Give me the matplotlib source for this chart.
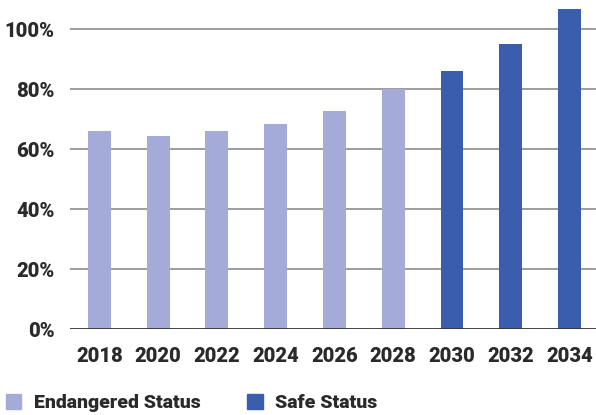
import numpy as np
import matplotlib.pyplot as plt
from matplotlib.patches import Patch

years = ["2018", "2020", "2022", "2024", "2026", "2028", "2030", "2032", "2034"]
values = [66, 64.3, 66, 68.3, 72.7, 80, 86, 95, 106.7]
safe = [False, False, False, False, False, False, True, True, True]
yticks = [0, 20, 40, 60, 80, 100]

light = "#A5ABD8"
dark = "#3A5DAE"
text_col = "#2a2a2a"

plt.rcParams['font.family'] = ['Roboto', 'DejaVu Sans']
plt.rcParams['font.weight'] = 'bold'

fig = plt.figure(figsize=(5.96, 4.15), dpi=100)
ax = fig.add_axes([70 / 596, 86 / 415, 1 - 70 / 596, 329 / 415])

x = np.arange(len(years))
colors = [dark if s else light for s in safe]
ax.bar(x, values, width=0.39, color=colors, zorder=1)

for t in yticks[1:]:
    ax.axhline(t, color="#8c8c8c", lw=1.2, zorder=0)
ax.axhline(0, color="#333333", lw=2, zorder=2)

ax.set_xlim(-0.5, 8.45)
ax.set_ylim(0, 109.7)
ax.set_yticks(yticks)
ax.set_yticklabels([f"{t}%" for t in yticks], fontsize=14.5, color=text_col, fontweight='heavy')
ax.set_xticks(x)
ax.set_xticklabels(years, fontsize=14.5, color=text_col, fontweight='heavy')
ax.tick_params(length=0)
ax.tick_params(axis='y', pad=11)
ax.tick_params(axis='x', pad=13)
for s in ax.spines.values():
    s.set_visible(False)

handles = [Patch(color=light, label="Endangered Status"),
           Patch(color=dark, label="Safe Status")]
leg = fig.legend(handles=handles, loc='lower left', bbox_to_anchor=(-0.02, -0.035), ncol=2,
                 frameon=False, handlelength=0.8, handleheight=0.8, handletextpad=0.65,
                 columnspacing=2.4, prop={'size': 14, 'weight': 'heavy'})
for t in leg.get_texts():
    t.set_color(text_col)

fig.savefig("out.png", dpi=100)
